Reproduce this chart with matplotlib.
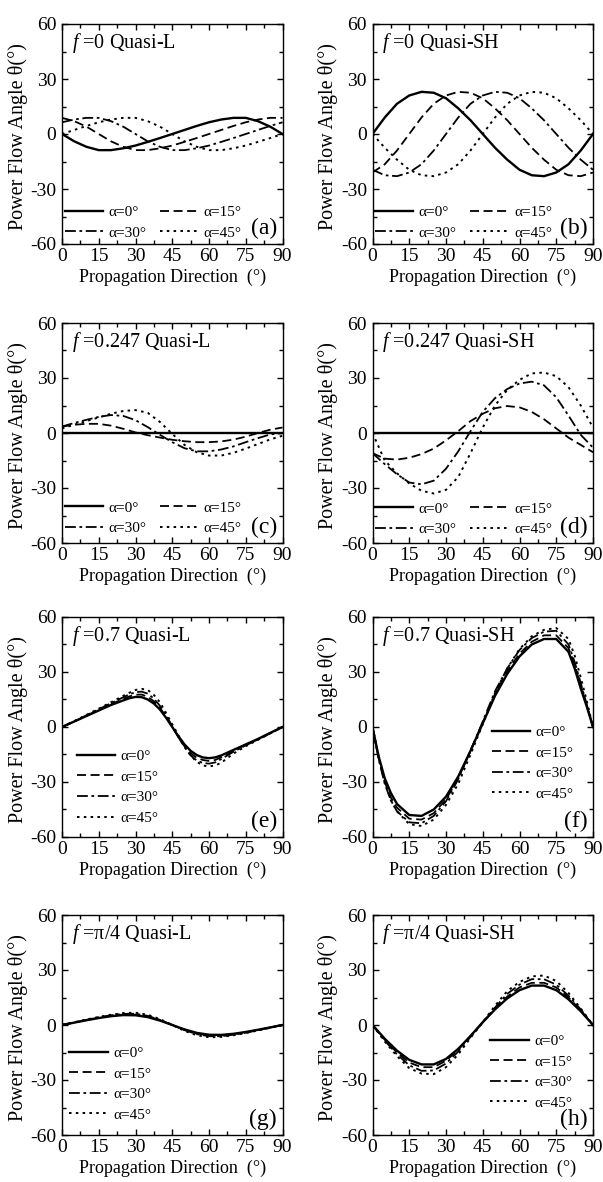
import matplotlib.pyplot as plt
from matplotlib.ticker import MultipleLocator

plt.rcParams['font.family'] = ['Liberation Serif', 'DejaVu Serif']
plt.rcParams['mathtext.fontset'] = 'custom'
plt.rcParams['mathtext.rm'] = 'Liberation Serif'
plt.rcParams['mathtext.it'] = 'Liberation Serif:italic'
plt.rcParams['axes.unicode_minus'] = False

# propagation direction (deg)
direction = [0, 5, 10, 15, 20, 25, 30, 35, 40, 45, 50, 55, 60, 65, 70, 75, 80, 85, 90]
# denser sampling where the f=0.7 curves bend sharply
direction_e = [0, 5, 10, 15, 20, 25, 27.5, 30, 32.5, 35, 37.5, 40, 42.5, 45, 47.5, 50,
               52.5, 55, 57.5, 60, 62.5, 65, 70, 75, 80, 85, 90]
direction_f = [0, 2.5, 5, 7.5, 10, 15, 20, 25, 30, 35, 40, 45, 50, 55, 60, 65, 70, 75,
               80, 82.5, 85, 87.5, 90]
alpha_labels = ['α=0°', 'α=15°', 'α=30°', 'α=45°']

# (a) f=0 Quasi-L
a_0 = [0, -4.0, -7.0, -8.8, -8.8, -7.8, -6.3, -4.3, -2.2, 0, 2.2, 4.4, 6.4, 7.9, 8.8, 8.8, 7.0, 4.0, 0]
a_15 = [8.8, 7.0, 4.0, 0, -4.0, -7.0, -8.8, -8.8, -7.8, -6.3, -4.3, -2.2, 0, 2.2, 4.4, 6.4, 7.9, 8.8, 8.8]
a_30 = [6.4, 7.9, 8.8, 8.8, 7.0, 4.0, 0, -4.0, -7.0, -8.8, -8.8, -7.8, -6.3, -4.3, -2.2, 0, 2.2, 4.4, 6.4]
a_45 = [0, 2.2, 4.4, 6.4, 7.9, 8.8, 8.8, 7.0, 4.0, 0, -4.0, -7.0, -8.8, -8.8, -7.8, -6.3, -4.3, -2.2, 0]

# (b) f=0 Quasi-SH
b_0 = [0, 9, 16.5, 21, 23, 22.5, 19.5, 14, 7.5, 0, -7.5, -14, -19.5, -22.5, -23, -21, -16.5, -9, 0]
b_15 = [-21, -16.5, -9, 0, 9, 16.5, 21, 23, 22.5, 19.5, 14, 7.5, 0, -7.5, -14, -19.5, -22.5, -23, -21]
b_30 = [-19.5, -22.5, -23, -21, -16.5, -9, 0, 9, 16.5, 21, 23, 22.5, 19.5, 14, 7.5, 0, -7.5, -14, -19.5]
b_45 = [0, -7.5, -14, -19.5, -22.5, -23, -21, -16.5, -9, 0, 9, 16.5, 21, 23, 22.5, 19.5, 14, 7.5, 0]

# (c) f=0.247 Quasi-L
c_0 = [0, 0, 0, 0, 0, 0, 0, 0, 0, 0, 0, 0, 0, 0, 0, 0, 0, 0, 0]
c_15 = [3.5, 4.5, 5, 5, 4, 2.3, 0.3, -1.2, -2.5, -3.7, -4.5, -5, -5, -4.6, -3.6, -2, 0, 1.8, 3]
c_30 = [3.5, 5.5, 7.2, 8.8, 9.8, 9.3, 7, 3.2, -1, -5, -8.3, -10, -10, -9, -7.3, -5, -2.8, -0.8, 0]
c_45 = [2.5, 4.5, 6.5, 8.5, 10.5, 12, 12.5, 11, 6, -0.5, -6.5, -10.5, -12.3, -12.3, -10.8, -8.5, -6, -3.5, -1.5]

# (d) f=0.247 Quasi-SH
d_0 = [0, 0, 0, 0, 0, 0, 0, 0, 0, 0, 0, 0, 0, 0, 0, 0, 0, 0, 0]
d_15 = [-11, -14, -14.5, -13.5, -11.5, -8.5, -4, 1, 6.5, 10.5, 13.5, 14.7, 14, 11.5, 7.5, 2.5, -2.5, -6.5, -10.5]
d_30 = [-11, -17, -22.5, -27, -28, -26, -19.5, -10, 1, 11.5, 19, 24, 27, 28, 26, 19.5, 9.5, -1, -8]
d_45 = [0, -15, -22, -27.5, -31.5, -33, -31, -24, -11, 3, 15, 23.5, 29, 32.5, 33, 31, 25, 15, 3]

# (e) f=0.7 Quasi-L  (on direction_e)
e_0 = [0, 3, 6, 9, 12, 14.5, 15.7, 16.4, 16.3, 15, 12.8, 9.5, 5, 0, -5, -9.5,
       -13, -15.3, -16.6, -17, -16.6, -15.5, -12.5, -9.5, -6.5, -3.2, 0]
e_15 = [0, 3, 6.2, 9.3, 12.5, 15.3, 16.7, 17.6, 17.7, 16.5, 14, 10.5, 5.5, 0, -5.5, -10.5,
        -14.3, -16.8, -18, -18.5, -18, -16.5, -13, -9.8, -6.7, -3.3, 0]
e_30 = [0, 3.1, 6.4, 9.7, 13, 16.2, 17.8, 19, 19.3, 18.2, 15.5, 11.5, 6.2, 0.5, -5.5, -11,
        -15.5, -18.3, -19.6, -20, -19.3, -17.5, -13.5, -10, -6.8, -3.4, 0]
e_45 = [0, 3.2, 6.6, 10, 13.5, 17, 18.7, 20.2, 20.8, 20.2, 17.5, 13.5, 7.5, 1.5, -4.5, -10.5,
        -15.5, -19, -21, -21.5, -21, -19.5, -14.5, -10.5, -7, -3.5, 0]

# (f) f=0.7 Quasi-SH  (on direction_f)
f_0 = [0, -16, -28, -36, -42, -48, -48.5, -45, -38, -27, -13, 2, 17, 29, 38.5, 45, 48, 48,
       41, 32, 21, 11, 0]
f_15 = [0, -17, -30, -38.5, -44, -50, -50.5, -47, -39.5, -28, -13, 2.5, 18, 30.5, 40, 46.5, 50, 50,
        43, 34, 22.5, 11.5, 0]
f_30 = [0, -17.5, -31, -40, -46, -52, -52.5, -48.5, -40.5, -28.5, -13, 3, 19.5, 32, 42, 48.5, 52, 52.5,
        45, 35.5, 24, 12, 0]
f_45 = [0, -16, -30, -40, -46, -53, -54, -50.5, -42.5, -31, -15, 1.5, 18.5, 32, 42.5, 49.5, 53, 54,
        48, 39, 27, 14, 0]

# (g) f=pi/4 Quasi-L
g_0 = [0, 1.3, 2.6, 3.8, 4.8, 5.4, 5.3, 4.3, 2.4, 0, -2.4, -4.3, -5.3, -5.4, -4.8, -3.8, -2.6, -1.3, 0]
g_15 = [0, 1.4, 2.7, 4, 5, 5.7, 5.6, 4.6, 2.6, 0, -2.6, -4.6, -5.6, -5.7, -5, -4, -2.7, -1.4, 0]
g_30 = [0, 1.4, 2.8, 4.2, 5.3, 6.1, 6.1, 5, 2.8, 0, -2.8, -5, -6.1, -6.1, -5.3, -4.2, -2.8, -1.4, 0]
g_45 = [0, 1.5, 3, 4.4, 5.6, 6.5, 6.7, 5.6, 3.2, 0, -3.2, -5.6, -6.7, -6.5, -5.6, -4.4, -3, -1.5, 0]

# (h) f=pi/4 Quasi-SH
h_0 = [0, -7.5, -14, -19, -21.5, -21.5, -18.5, -13, -6, 1.5, 8.5, 14.5, 19, 21.5, 21.5, 19, 14, 7.5, 0]
h_15 = [0, -8, -15, -20.5, -23, -23, -19.5, -13.5, -6, 1.5, 9, 15.5, 20.5, 23, 23, 20.5, 15, 8, 0]
h_30 = [0, -8.5, -16, -22, -25, -24.8, -21, -14.5, -6.5, 1.5, 9.5, 17, 22, 25, 25, 22, 16, 8.5, 0]
h_45 = [0, -9, -17, -23.5, -26.5, -26.8, -23, -16, -7, 1.5, 10.5, 18.5, 23.5, 26.5, 27, 24, 17.5, 9, 0]

titles = ['$f$ =0 Quasi-L', '$f$ =0 Quasi-SH', '$f$ =0.247 Quasi-L', '$f$ =0.247 Quasi-SH',
          '$f$ =0.7 Quasi-L', '$f$ =0.7 Quasi-SH', '$f$ =π/4 Quasi-L', '$f$ =π/4 Quasi-SH']
tags = ['(a)', '(b)', '(c)', '(d)', '(e)', '(f)', '(g)', '(h)']
x_values = [direction, direction, direction, direction, direction_e, direction_f, direction, direction]
series = [
    (a_0, a_15, a_30, a_45), (b_0, b_15, b_30, b_45),
    (c_0, c_15, c_30, c_45), (d_0, d_15, d_30, d_45),
    (e_0, e_15, e_30, e_45), (f_0, f_15, f_30, f_45),
    (g_0, g_15, g_30, g_45), (h_0, h_15, h_30, h_45),
]

styles = [
    dict(linestyle='-', linewidth=1.7),
    dict(linestyle=(0, (5, 2.5)), linewidth=1.3),
    dict(linestyle=(0, (6, 2, 1.5, 2)), linewidth=1.3),
    dict(linestyle=(0, (1.3, 2.2)), linewidth=1.4),
]

W, H = 603, 1182
fig = plt.figure(figsize=(W / 100, H / 100), dpi=100)

col_left = [62, 372.5]
col_width = 220.5
row_top = [24, 323, 617, 915]
row_height = 220

# legend anchors (axes fraction); two columns in top rows, one column below
legend_pos = [(0.012, 0.02), (0.012, 0.02), (0.012, 0.035), (0.012, 0.03),
              (0.066, 0.055), (0.54, 0.165), (0.034, 0.06), (0.535, 0.115)]

for i in range(8):
    r, c = divmod(i, 2)
    left = col_left[c] / W
    bottom = 1 - (row_top[r] + row_height) / H
    ax = fig.add_axes([left, bottom, col_width / W, row_height / H])

    lines = []
    for ys, st, lab in zip(series[i], styles, alpha_labels):
        ln, = ax.plot(x_values[i], ys, color='black', label=lab, **st)
        lines.append(ln)

    ax.set_xlim(0, 90)
    ax.set_ylim(-60, 60)
    ax.xaxis.set_major_locator(MultipleLocator(15))
    ax.xaxis.set_minor_locator(MultipleLocator(7.5))
    ax.yaxis.set_major_locator(MultipleLocator(30))
    ax.yaxis.set_minor_locator(MultipleLocator(15))
    ax.tick_params(which='both', direction='in', top=True, right=True, width=1.0)
    ax.tick_params(which='major', length=4.5, labelsize=14)
    ax.tick_params(which='minor', length=3)
    ax.tick_params(axis='y', pad=4)
    ax.tick_params(axis='x', pad=3)
    for sp in ax.spines.values():
        sp.set_linewidth(1.0)

    ax.set_xlabel('Propagation Direction  (°)', fontsize=13)
    ax.xaxis.set_label_coords(0.5, -0.11)
    ax.set_ylabel('Power Flow Angle θ(°)', fontsize=14.5)
    ax.yaxis.set_label_coords(-0.155, 0.49)

    ax.text(0.045, 0.915, titles[i], transform=ax.transAxes, fontsize=14.5,
            ha='left', va='center')
    ax.text(0.975, 0.07, tags[i], transform=ax.transAxes, fontsize=17,
            ha='right', va='center')

    if r < 2:
        order = [0, 2, 1, 3]
        ax.legend([lines[k] for k in order], [alpha_labels[k] for k in order],
                  ncol=2, loc='lower left', bbox_to_anchor=legend_pos[i],
                  frameon=False, fontsize=11, handlelength=2.5, handletextpad=0.35,
                  columnspacing=0.9, labelspacing=0.45, borderpad=0, borderaxespad=0)
    else:
        ax.legend(lines, alpha_labels, loc='lower left', bbox_to_anchor=legend_pos[i],
                  frameon=False, fontsize=11, handlelength=2.5, handletextpad=0.35,
                  labelspacing=0.45, borderpad=0, borderaxespad=0)

fig.savefig('out.png', dpi=100)
